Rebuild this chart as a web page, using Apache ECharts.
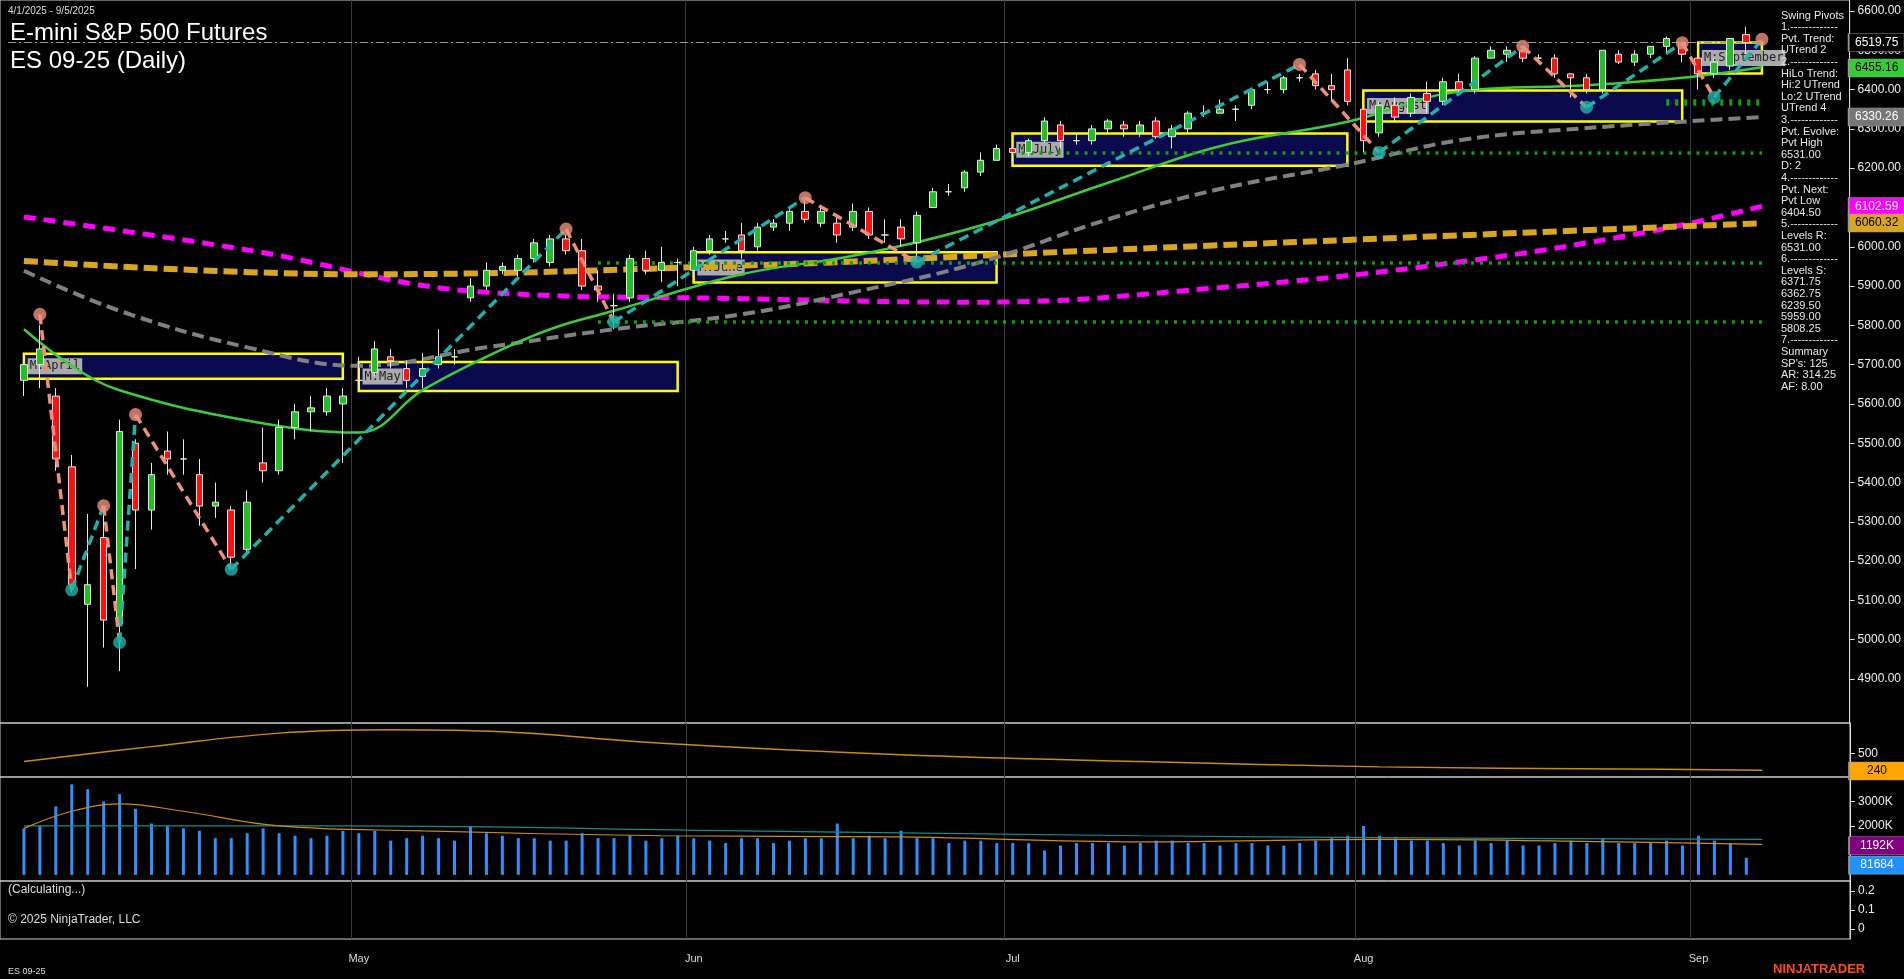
<!DOCTYPE html>
<html><head><meta charset="utf-8">
<script src="https://cdn.jsdelivr.net/npm/echarts@6/dist/echarts.min.js"></script>
<style>html,body{margin:0;padding:0;background:#000;}#c{width:1904px;height:979px;}</style>
</head><body><div id="c"></div>
<script>
const apr=['4/1','4/2','4/3','4/4','4/7','4/8','4/9','4/10','4/11','4/14','4/15','4/16','4/17','4/21','4/22','4/23','4/24','4/25','4/28','4/29','4/30'];
const may=['5/1','5/2','5/5','5/6','5/7','5/8','5/9','5/12','5/13','5/14','5/15','5/16','5/19','5/20','5/21','5/22','5/23','5/27','5/28','5/29','5/30'];
const jun=['6/2','6/3','6/4','6/5','6/6','6/9','6/10','6/11','6/12','6/13','6/16','6/17','6/18','6/20','6/23','6/24','6/25','6/26','6/27','6/30'];
const jul=['7/1','7/2','7/3','7/7','7/8','7/9','7/10','7/11','7/14','7/15','7/16','7/17','7/18','7/21','7/22','7/23','7/24','7/25','7/28','7/29','7/30','7/31'];
const aug=['8/1','8/4','8/5','8/6','8/7','8/8','8/11','8/12','8/13','8/14','8/15','8/18','8/19','8/20','8/21','8/22','8/25','8/26','8/27','8/28','8/29'];
const sep=['9/2','9/3','9/4','9/5'];
const dates=[...apr,...may,...jun,...jul,...aug,...sep];
const monthLabels={'5/1':'May','6/2':'Jun','7/1':'Jul','8/1':'Aug','9/2':'Sep'};
// [open, close, low, high]
const ohlc=[
[5660,5700,5620,5730],[5700,5740,5640,5800],[5620,5460,5430,5640],[5440,5140,5120,5470],[5090,5140,4880,5320],
[5260,5050,4980,5330],[5040,5530,4920,5560],[5500,5330,5180,5510],[5330,5420,5280,5450],[5480,5460,5420,5530],
[5460,5460,5420,5510],[5420,5340,5290,5460],[5340,5350,5310,5400],[5330,5210,5180,5340],[5230,5350,5220,5380],
[5450,5430,5400,5540],[5430,5540,5420,5560],[5540,5580,5510,5600],[5580,5590,5530,5620],[5580,5620,5570,5640],[5600,5620,5450,5640],
[5660,5660,5640,5720],[5680,5740,5670,5760],[5720,5710,5690,5740],[5690,5660,5640,5710],[5670,5690,5640,5730],
[5700,5720,5690,5790],[5720,5720,5700,5740],[5870,5900,5860,5920],[5900,5940,5890,5960],[5940,5950,5930,5960],
[5940,5970,5920,5980],[5970,6010,5960,6020],[5960,6020,5950,6030],[6020,5990,5980,6030],[5990,5900,5890,6020],
[5900,5890,5860,5940],[5850,5850,5790,5880],[5870,5970,5860,5980],[5970,5940,5930,5990],[5940,5960,5910,6000],[5960,5960,5900,5970],
[5940,5990,5920,6000],[5990,6020,5980,6030],[6020,6020,6010,6040],[6030,5990,5970,6060],[6000,6050,5990,6060],
[6050,6060,6040,6070],[6060,6090,6040,6100],[6090,6070,6060,6120],[6060,6090,6050,6100],[6060,6030,6010,6080],
[6050,6090,6040,6110],[6090,6030,6020,6100],[6030,6030,6010,6070],[6050,6020,6000,6070],[6010,6080,5970,6090],
[6100,6140,6100,6150],[6140,6140,6130,6160],[6150,6190,6140,6195],[6190,6220,6180,6240],[6220,6250,6220,6260],
[6250,6240,6210,6260],[6240,6270,6230,6275],[6270,6320,6265,6330],[6310,6270,6250,6320],[6270,6270,6260,6290],
[6270,6300,6260,6310],[6300,6320,6290,6325],[6310,6300,6280,6320],[6290,6310,6280,6320],[6320,6280,6275,6330],
[6280,6300,6250,6310],[6300,6340,6290,6345],[6340,6340,6330,6360],[6340,6350,6340,6375],[6350,6350,6320,6360],
[6360,6400,6350,6405],[6400,6400,6390,6420],[6400,6430,6390,6435],[6430,6430,6420,6440],[6440,6410,6400,6450],
[6410,6400,6370,6440],[6450,6370,6360,6480],
[6350,6270,6240,6360],[6290,6360,6280,6370],[6360,6330,6320,6380],[6340,6380,6330,6390],[6390,6370,6340,6420],
[6370,6420,6360,6430],[6420,6400,6390,6440],[6400,6480,6390,6485],[6480,6500,6480,6510],[6490,6500,6470,6510],
[6500,6480,6470,6510],[6480,6480,6465,6490],[6480,6440,6430,6490],[6440,6430,6380,6440],[6430,6400,6390,6440],
[6400,6500,6390,6500],[6490,6470,6465,6500],[6470,6490,6460,6500],[6490,6510,6480,6510],[6510,6530,6490,6535],[6520,6490,6470,6520],
[6480,6440,6400,6480],[6440,6470,6430,6480],[6460,6530,6450,6530],[6540,6519.75,6490,6560]
];
const volume=[1900,2000,2800,3700,3500,3000,3300,2700,2100,2000,1900,1800,1500,1500,1700,1900,1700,1600,1500,1600,1800,
1700,1800,1400,1500,1600,1500,1400,2000,1700,1600,1500,1500,1400,1400,1700,1500,1500,1600,1400,1500,1600,
1500,1400,1300,1500,1500,1300,1400,1500,1500,2100,1500,1600,1500,1800,1500,1500,1300,1400,1400,1300,
1300,1300,1000,1200,1300,1300,1300,1200,1300,1400,1400,1300,1300,1200,1300,1300,1200,1200,1300,1400,1500,1600,
2000,1600,1500,1400,1400,1300,1200,1400,1300,1400,1200,1200,1300,1400,1300,1500,1300,1300,1300,1400,1200,
1600,1400,1300,700];
// moving averages: [bar index, price]
const maGreen=[[0,5790],[3,5697],[6,5635],[14,5558],[21,5527],[25,5635],[29,5720],[33,5790],[37,5837],[45,5930],[52,5977],[60,6054],[68,6163],[75,6256],[83,6318],[90,6395],[98,6411],[104,6430],[109,6457]];
const maGray=[[0,5939],[6,5837],[14,5744],[21,5697],[29,5744],[37,5790],[45,5828],[52,5884],[60,5961],[68,6070],[75,6147],[83,6209],[90,6271],[98,6302],[109,6330]];
const maOrange=[[0,5964],[21,5930],[45,5952],[68,5992],[90,6029],[109,6060]];
const maMagenta=[[0,6076],[14,5992],[29,5884],[45,5868],[60,5859],[75,5896],[90,5961],[102,6039],[109,6103]];
const volMaOrange=[[0,1900],[3,2600],[6,2900],[10,2600],[16,2000],[25,1800],[40,1600],[55,1550],[70,1350],[85,1450],[100,1350],[109,1250]];
const volMaTeal=[[0,2000],[20,2000],[45,1800],[70,1600],[90,1500],[109,1450]];
const atrLine=[[0,380],[8,600],[16,800],[23,850],[30,820],[40,650],[55,480],[70,380],[85,300],[100,270],[109,250]];
const pivots=[[1,5828],[3,5127],[5,5341],[6,4993],[7,5573],[13,5179],[34,6045],[37,5809],[49,6125],[56,5961],[80,6464],[85,6240],[94,6510],[98,6355],[104,6519],[106,6380],[109,6528]];
const boxes=[['M:April',0,20,5664,5728],['M:May',21,41,5633,5707],['M:June',42,61,5909,5986],['M:July',62,83,6206,6288],['M:August',84,104,6319,6398],['M:September',105,109,6441,6520]];
const levelsS=[6371.75,6362.75,6239.50,5959.00,5808.25];
const levelStart=[103,103,62,36,36];
const pivotText=['Swing Pivots','1.-------------','Pvt. Trend:','UTrend 2','2.-------------','HiLo Trend:','Hi:2 UTrend','Lo:2 UTrend','UTrend 4','3.-------------','Pvt. Evolve:','Pvt High','6531.00','D: 2','4.-------------','Pvt. Next:','Pvt Low','6404.50','5.-------------','Levels R:','6531.00','6.-------------','Levels S:','6371.75','6362.75','6239.50','5959.00','5808.25','7.-------------','Summary','SP\'s: 125','AR: 314.25','AF: 8.00'];
const priceTicks=[4900,5000,5100,5200,5300,5400,5500,5600,5700,5800,5900,6000,6100,6200,6300,6400,6500,6600];

const cats=[' ',...dates,'  ','   ','    ','     ','      ','       '];
const LAST=cats.length-1;
const X=i=>i+1; // category index of bar i
const F='Liberation Sans, Arial, sans-serif';
const isMonth=(i,v)=>monthLabels[v]!==undefined;
function xa(gi,show){return {type:'category',gridIndex:gi,data:cats,boundaryGap:true,
 axisLine:{show:false},axisTick:{show:false},
 axisLabel:{show:show,interval:isMonth,formatter:v=>monthLabels[v]||'',color:'#ddd',fontFamily:F,fontSize:11,margin:14},
 splitLine:{show:true,interval:isMonth,lineStyle:{color:'#3a3a3a',width:1}}};}
function ya(gi,min,max,ticks,fmt){return {type:'value',gridIndex:gi,position:'right',min:min,max:max,
 splitLine:{show:false},axisLine:{show:true,lineStyle:{color:'#ddd'}},
 axisTick:{show:true,customValues:ticks,length:5,lineStyle:{color:'#ddd'}},
 axisLabel:{customValues:ticks,formatter:fmt,color:'#eee',fontFamily:F,fontSize:12,margin:8}};}
function tag(v,text,bg,fg){return {coord:[LAST,v],value:text,symbol:'rect',symbolSize:[56,18],symbolOffset:[35,0],
 itemStyle:{color:bg,borderColor:'#999',borderWidth:1},
 label:{show:true,position:'inside',formatter:text,color:fg,fontFamily:F,fontSize:12}};}
const blankC=['-','-','-','-'];
const series=[];
series.push({type:'candlestick',xAxisIndex:0,yAxisIndex:0,data:[blankC,...ohlc],barWidth:7,
 itemStyle:{color:'#22c022',color0:'#ff1010',borderColor:'#e8e8e8',borderColor0:'#e8e8e8',borderWidth:1},
 markLine:{symbol:'none',silent:true,animation:false,data:[
  [{coord:[0,6519.75],lineStyle:{color:'#999',type:[8,3,2,3],width:1.2},label:{show:false}},{coord:[X(109),6519.75]}],
  ...levelsS.map((v,k)=>[{coord:[X(levelStart[k]),v],lineStyle:{color:'#10a010',type:[3,6],width:3.5},label:{show:false}},{coord:[X(109),v]}])
 ]},
 markArea:{silent:true,data:boxes.map(b=>[{name:b[0],coord:[X(b[1]),b[4]],itemStyle:{color:'rgba(10,10,90,0.85)',borderColor:'#ffff00',borderWidth:2.5},
   label:{show:true,position:'insideLeft',color:'#222',backgroundColor:'#aaa',fontFamily:'DejaVu Sans Mono',fontSize:12,padding:[2,2]}},{coord:[X(b[2]),b[3]]}])},
 markPoint:{silent:true,animation:false,data:[
  tag(6519.75,'6519.75','#000','#fff'),tag(6455.16,'6455.16','#33cc33','#000'),tag(6330.26,'6330.26','#777','#fff'),
  tag(6102.59,'6102.59','#ff00ff','#fff'),tag(6060.32,'6060.32','#daa520','#000')]},
 z:5});
const line=(data,color,w,dash,xi,yi,z)=>({type:'line',xAxisIndex:xi,yAxisIndex:yi,data:data.map(p=>[X(p[0]),p[1]]),smooth:0.4,symbol:'none',
 lineStyle:{color:color,width:w,type:dash},z:z||3,silent:true});
series.push(line(maMagenta,'#ff00ff',5,[12,8],0,0));
series.push(line(maOrange,'#daa520',6,[14,6],0,0));
series.push(line(maGray,'#808080',4,[12,6],0,0));
series.push(line(maGreen,'#3ccc3c',2.5,'solid',0,0,4));
for(let k=0;k<pivots.length-1;k++){
 const a=pivots[k],b=pivots[k+1];const up=b[1]>a[1];
 series.push({type:'line',xAxisIndex:0,yAxisIndex:0,data:[[X(a[0]),a[1]],[X(b[0]),b[1]]],symbol:'none',
  lineStyle:{color:up?'#20b2aa':'#f0907a',width:3.5,type:[10,6]},z:6,silent:true});
}
series.push({type:'scatter',xAxisIndex:0,yAxisIndex:0,data:pivots.map((p,k)=>({value:[X(p[0]),p[1]],itemStyle:{color:(k>0&&p[1]<pivots[k-1][1])?'#20b2aa':'#f0907a'}})),symbolSize:13,z:7});
series.push({type:'line',xAxisIndex:1,yAxisIndex:1,data:atrLine.map(p=>[X(p[0]),p[1]]),smooth:0.4,symbol:'none',lineStyle:{color:'#d08a10',width:1.5},
 markPoint:{silent:true,data:[tag(240,'240','#ffa500','#000')]}});
series.push({type:'bar',xAxisIndex:2,yAxisIndex:2,data:['-',...volume],barWidth:3,itemStyle:{color:'#2f8fff'},
 markPoint:{silent:true,data:[tag(1192,'1192K','#800080','#fff'),tag(400,'81684','#1e90ff','#fff')]}});
series.push(line(volMaTeal,'#1a8a8a',1.2,'solid',2,2,4));
series.push(line(volMaOrange,'#d08a10',1.2,'solid',2,2,4));

const option={backgroundColor:'#000',animation:false,
 grid:[{left:0,right:54,top:0,height:723,show:true,borderColor:'#ccc',borderWidth:1},
  {left:0,right:54,top:723,height:54,show:true,borderColor:'#ccc',borderWidth:1},
  {left:0,right:54,top:777,height:104,show:true,borderColor:'#ccc',borderWidth:1},
  {left:0,right:54,top:881,height:58,show:true,borderColor:'#ccc',borderWidth:1}],
 xAxis:[xa(0,false),xa(1,false),xa(2,false),xa(3,true)],
 yAxis:[ya(0,4788,6628,priceTicks,v=>v.toFixed(2)),
  ya(1,150,950,[500],v=>String(v)),
  ya(2,-250,4000,[2000,3000],v=>v+'K'),
  ya(3,-0.054,0.254,[0,0.1,0.2],v=>String(v))],
 series:series,
 graphic:[
  {type:'text',left:8,top:6,style:{text:'4/1/2025 - 9/5/2025',fill:'#ddd',font:'10px '+F}},
  {type:'text',left:10,top:21,style:{text:'E-mini S&P 500 Futures',fill:'#fff',font:'24px '+F}},
  {type:'text',left:10,top:49,style:{text:'ES 09-25 (Daily)',fill:'#fff',font:'24px '+F}},
  {type:'text',left:8,top:884,style:{text:'(Calculating...)',fill:'#ddd',font:'12px '+F}},
  {type:'text',left:8,top:914,style:{text:'© 2025 NinjaTrader, LLC',fill:'#ddd',font:'12px '+F}},
  {type:'text',left:8,top:967,style:{text:'ES 09-25',fill:'#ddd',font:'9px '+F}},
  {type:'text',left:1773,top:963,style:{text:'NINJATRADER',fill:'#ff4d1a',font:'bold 13px '+F}},
  ...pivotText.map((t,i)=>({type:'text',left:1781,top:10+i*11.6,z:100,style:{text:t,fill:'#e8e8e8',font:'11px '+F}}))
 ]};
echarts.init(document.getElementById('c')).setOption(option);
</script></body></html>
